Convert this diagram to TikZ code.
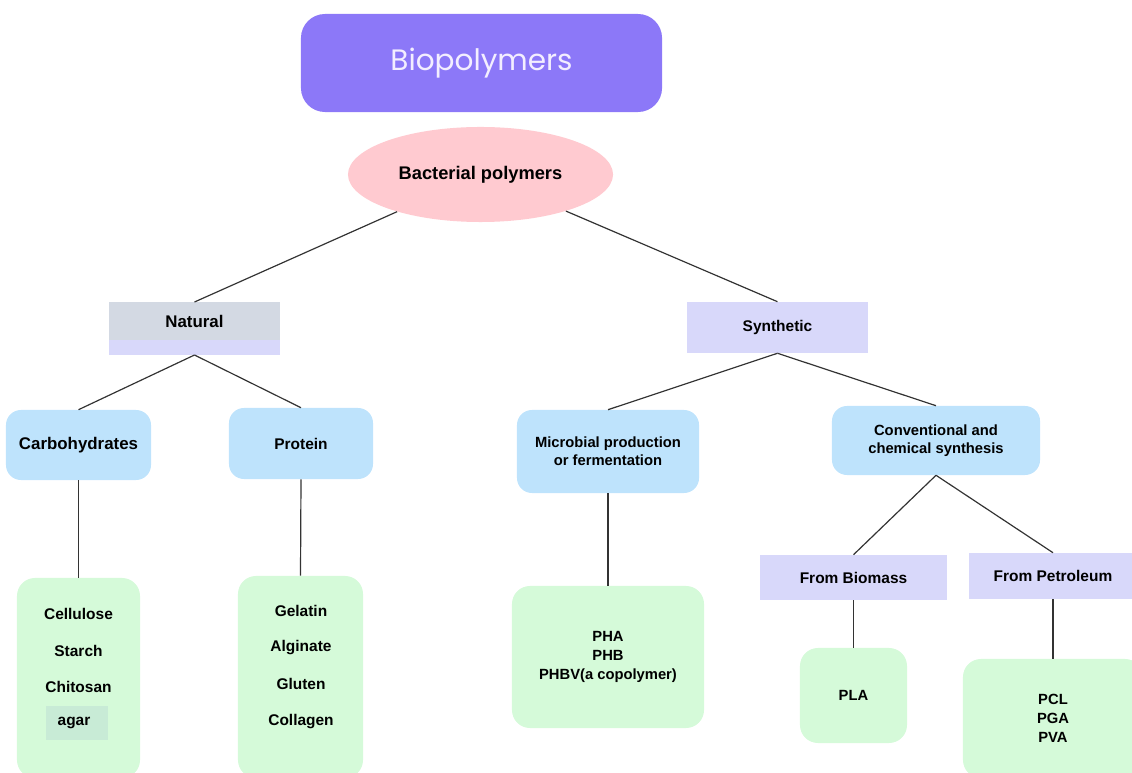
\documentclass[tikz,border=0pt]{standalone}
\usepackage{fontspec}
\setmainfont{Liberation Sans}
\newfontfamily\titlefont{Poppins}
\usetikzlibrary{positioning,shapes.geometric}
\definecolor{violetbox}{RGB}{140,120,248}
\definecolor{titletext}{RGB}{243,238,255}
\definecolor{pinkbox}{RGB}{255,202,208}
\definecolor{graybox}{RGB}{211,217,227}
\definecolor{lavbox}{RGB}{216,216,250}
\definecolor{bluebox}{RGB}{190,227,252}
\definecolor{greenbox}{RGB}{213,250,217}
\definecolor{agarbox}{RGB}{200,235,214}

\begin{document}
\begin{tikzpicture}[
  x=0.025cm, y=-0.025cm,
  titlenode/.style={rectangle, rounded corners=0.6cm, fill=violetbox,
                    text=titletext, font=\titlefont\fontsize{21}{25}\selectfont},
  rootnode/.style={ellipse, fill=pinkbox, inner sep=0pt,
                   font=\bfseries\fontsize{13}{15}\selectfont},
  branchnode/.style={rectangle, fill=lavbox, font=\bfseries\fontsize{11}{13}\selectfont},
  groupnode/.style={rectangle, rounded corners=0.375cm, fill=bluebox, align=center,
                    font=\bfseries\fontsize{11}{13}\selectfont},
  listnode/.style={rectangle, rounded corners=0.45cm, fill=greenbox, align=center,
                   font=\bfseries\fontsize{10.5}{13.5}\selectfont},
  itemnode/.style={inner sep=1pt, font=\bfseries\fontsize{11}{13}\selectfont},
  link/.style={draw=black!80, line width=0.85pt}
]
\useasboundingbox (0,0) rectangle (1132,773);
\clip (0,0) rectangle (1132,773);

% Title and root
\node[titlenode, minimum width=9.025cm, minimum height=2.45cm] (bio) at (481.5,63) {\raisebox{-2pt}{Biopolymers}};
\node[rootnode, minimum width=6.625cm, minimum height=2.375cm] (bact) at (480.5,174.5) {Bacterial polymers};

% Natural / Synthetic
\node[branchnode, fill=graybox, minimum width=4.275cm, minimum height=0.95cm, outer sep=0pt,
      font=\bfseries\fontsize{12}{14}\selectfont] (natural) at (194.5,321) {Natural};
\node[branchnode, minimum width=4.275cm, minimum height=0.375cm, inner sep=0pt, outer sep=0pt,
      below=0pt of natural] (naturalbar) {};
\node[branchnode, minimum width=4.525cm, minimum height=1.275cm] (synth) at (777.5,327.5) {Synthetic};

% Groups
\node[groupnode, minimum width=3.625cm, minimum height=1.75cm,
      font=\bfseries\fontsize{12}{14}\selectfont] (carb) at (78.5,445) {Carbohydrates};
\node[groupnode, minimum width=3.6cm, minimum height=1.775cm] (prot) at (301,443.5) {Protein};
\node[groupnode, minimum width=4.55cm, minimum height=2.075cm,
      font=\bfseries\fontsize{10.5}{13}\selectfont] (micro) at (608,451.5) {Microbial production\\or fermentation};
\node[groupnode, minimum width=5.2cm, minimum height=1.725cm,
      font=\bfseries\fontsize{10.5}{13}\selectfont] (conv) at (936,440.5) {Conventional and\\chemical synthesis};

% Sources
\node[branchnode, minimum width=4.675cm, minimum height=1.125cm] (biomass) at (853.5,577.5) {From Biomass};
\node[branchnode, minimum width=4.2cm, minimum height=1.15cm] (petro) at (1053,576) {From Petroleum};

% Lists
\node[listnode, minimum width=3.075cm, minimum height=5cm] (carblist) at (78.5,678) {};
\node[listnode, minimum width=3.125cm, minimum height=5.05cm] (protlist) at (300.5,677) {};
\node[listnode, minimum width=4.8cm, minimum height=3.55cm] (microlist) at (608,657) {PHA\\PHB\\PHBV(a copolymer)};
\node[listnode, minimum width=2.675cm, minimum height=2.375cm] (pla) at (853.5,695.5) {PLA};
\node[listnode, minimum width=4.5cm, minimum height=2.975cm] (petrolist) at (1053,718.5) {PCL\\PGA\\PVA};

% List items
\foreach \t [count=\i] in {Cellulose,Starch,Chitosan}
  \node[itemnode] (carb\i) at (78.5,{614+36.5*(\i-1)}) {\t};
\node[fill=agarbox, minimum width=1.55cm, minimum height=0.85cm] (agarbg) at (77,723) {};
\node[itemnode, font=\fontsize{11}{13}\selectfont\bfseries] (agar) at (74,723) {agar};
\foreach \t [count=\i] in {Gelatin,Alginate,Gluten,Collagen}
  \node[itemnode] (prot\i) at (301,{611+36.7*(\i-1)}) {\t};

% Connectors
\draw[link] (bact) -- (natural.north);
\draw[link] (bact) -- (synth.north);
\draw[link] (naturalbar.south) -- (carb.north);
\draw[link] (naturalbar.south) -- (prot.north);
\draw[link] (synth.south) -- (micro.north);
\draw[link] (synth.south) -- (conv.north);
\draw[link] (carb.south) -- (carblist.north);
\draw[link] (prot.south) -- (protlist.north);
\draw[link] (micro.south) -- (microlist.north);
\draw[link] (conv.south) -- (biomass.north);
\draw[link] (conv.south) -- (petro.north);
\draw[link] (biomass.south) -- (pla.north);
\draw[link] (petro.south) -- (petrolist.north);

\end{tikzpicture}
\end{document}
